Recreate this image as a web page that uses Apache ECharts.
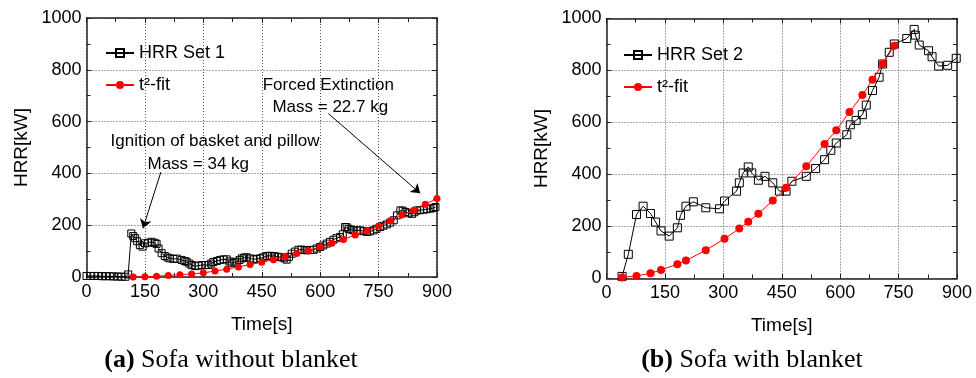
<!DOCTYPE html>
<html><head><meta charset="utf-8">
<script src="https://cdn.jsdelivr.net/npm/echarts@6/dist/echarts.min.js"></script>
<style>html,body{margin:0;padding:0;background:#fff}#c{width:976px;height:378px}</style>
</head><body><div id="c"></div>
<script>
// ---------- data ----------
const xTickLabels = [0, 150, 300, 450, 600, 750, 900];
const yTickLabels = [0, 200, 400, 600, 800, 1000];

// (a) Sofa without blanket — HRR Set 1
const timeA = [0,10,20,30,40,50,60,70,80,90,100,107,115,120,125,130,137,144,150,158,167,175,180,185,193,201,208,214,223,232,244,252,257,264,270,279,288,296,305,313,320,326,335,343,352,360,367,373,380,386,393,399,405,411,420,429,437,446,454,463,470,476,484,492,500,508,514,520,527,535,544,552,560,566,574,583,591,600,608,617,625,634,642,651,658,664,668,673,680,686,695,703,711,720,728,737,745,754,762,771,780,789,797,806,812,819,827,836,842,849,857,866,874,883,890,896];
const hrrA  = [4,4,4,4,3,3,3,2,2,1,1,10,168,158,150,138,123,117,130,132,136,132,128,110,92,81,75,72,70,71,66,62,59,52,46,42,44,46,46,46,52,58,62,66,68,68,60,53,56,59,66,72,75,76,72,68,70,72,76,81,82,81,80,78,76,72,67,78,90,98,105,106,104,103,104,105,110,116,122,129,136,144,150,154,165,193,192,186,183,180,180,180,177,174,176,180,186,193,198,203,210,219,238,257,256,251,246,244,250,257,258,260,262,264,266,270];
// (a) t^2-fit
const fitTimeA = [120,150,180,210,240,270,300,330,360,390,420,450,480,510,540,570,600,630,660,690,720,750,780,810,840,870,900];
const fitA     = [0,1,3,6,9,12,16,23,30,39,48,57,67,78,91,101,117,130,145,162,179,197,217,239,258,281,303];

// (b) Sofa with blanket — HRR Set 2
const timeB = [40,56,77,94,113,126,140,161,182,190,204,223,255,290,303,334,341,351,364,373,390,407,427,444,461,476,513,537,560,576,590,617,626,641,657,667,683,700,709,726,739,771,790,793,803,827,836,853,876,898];
const hrrB  = [8,93,246,278,250,217,183,163,195,243,278,295,272,268,298,336,368,406,429,406,378,393,368,336,336,374,393,423,457,493,521,553,591,608,630,667,723,774,825,870,902,923,958,936,898,876,853,817,820,847];
// (b) t^2-fit
const fitTimeB = [40,77,113,140,182,204,255,303,341,364,390,427,461,513,560,590,624,657,683,709,739];
const fitB     = [4,10,20,33,55,69,109,153,192,218,249,300,349,432,517,570,640,706,764,825,895];

// annotation texts
const noteIgnition = ['Ignition of basket and pillow', 'Mass = 34 kg'];
const noteExtinct  = ['Forced Extinction', 'Mass = 22.7 kg'];

// ---------- chart ----------
const SANS = '"Liberation Sans", Arial, sans-serif';
const SERIF = '"Liberation Serif", "Times New Roman", serif';
const pairs = (xs, ys) => xs.map((x, i) => [x, ys[i]]);
const AX = '#222';
const plain = v => String(v);

function xAxes(g) {
  const base = {
    type: 'value', gridIndex: g,
    min: xTickLabels[0], max: xTickLabels[xTickLabels.length - 1],
    interval: xTickLabels[1] - xTickLabels[0],
    axisLine: { show: true, onZero: false, lineStyle: { color: AX, width: 1.5 } },
    axisTick: { show: true, inside: true, length: 5, lineStyle: { color: AX } },
    minorTick: { show: true, splitNumber: 2, length: 4, lineStyle: { color: AX } },
  };
  return [
    Object.assign({}, base, {
      position: 'bottom',
      splitLine: { show: true, lineStyle: { type: [1, 2], color: '#555' } },
      axisLabel: { fontSize: 18, color: '#000', fontFamily: SANS, margin: 6, formatter: plain },
      name: 'Time[s]', nameLocation: 'middle', nameGap: 38,
      nameTextStyle: { fontSize: 19, color: '#000', fontFamily: SANS }
    }),
    Object.assign({}, base, {
      position: 'top', splitLine: { show: false }, axisLabel: { show: false }
    })
  ];
}
function yAxes(g) {
  const base = {
    type: 'value', gridIndex: g,
    min: yTickLabels[0], max: yTickLabels[yTickLabels.length - 1],
    interval: yTickLabels[1] - yTickLabels[0],
    axisLine: { show: true, onZero: false, lineStyle: { color: AX, width: 1.5 } },
    axisTick: { show: true, inside: true, length: 5, lineStyle: { color: AX } },
    minorTick: { show: true, splitNumber: 2, length: 4, lineStyle: { color: AX } },
  };
  return [
    Object.assign({}, base, {
      position: 'left',
      splitLine: { show: true, lineStyle: { type: [1, 2], color: '#555' } },
      axisLabel: { fontSize: 18, color: '#000', fontFamily: SANS, margin: 5, formatter: plain },
      name: 'HRR[kW]', nameLocation: 'middle', nameGap: 55,
      nameTextStyle: { fontSize: 19, color: '#000', fontFamily: SANS }
    }),
    Object.assign({}, base, {
      position: 'right', splitLine: { show: false }, axisLabel: { show: false }
    })
  ];
}

function hrrSeries(name, data, xi, yi, size, extra) {
  return Object.assign({
    name, type: 'line', xAxisIndex: xi, yAxisIndex: yi, data,
    symbol: 'rect', symbolSize: size,
    lineStyle: { color: '#000', width: 1 },
    itemStyle: { color: 'rgba(255,255,255,0)', borderColor: '#000', borderWidth: 1 },
    z: 3
  }, extra || {});
}
function fitSeries(data, xi, yi, size) {
  return {
    name: 't²-fit', type: 'line', xAxisIndex: xi, yAxisIndex: yi, data,
    symbol: 'circle', symbolSize: size,
    lineStyle: { color: '#ff0000', width: 1 },
    itemStyle: { color: '#ff0000' },
    z: 4
  };
}

const noteLabel = { show: true, position: 'inside', color: '#000', fontSize: 17, fontFamily: SANS, formatter: p => p.name };

const legendBase = {
  orient: 'vertical', itemWidth: 28, itemHeight: 10, itemGap: 14, padding: 0,
  textStyle: { fontSize: 18, color: '#000', fontFamily: SANS }
};

const option = {
  animation: false,
  backgroundColor: '#fff',
  grid: [
    { left: 86.5, top: 18, width: 350.5, height: 259 },
    { left: 606.5, top: 18.5, width: 350.5, height: 260 }
  ],
  xAxis: [...xAxes(0), ...xAxes(1)],
  yAxis: [...yAxes(0), ...yAxes(1)],
  legend: [
    Object.assign({ left: 105, top: 44, data: ['HRR Set 1', 't²-fit'] }, legendBase),
    Object.assign({ left: 623, top: 46, data: ['HRR Set 2', 't²-fit'] }, legendBase)
  ],
  series: [
    hrrSeries('HRR Set 1', pairs(timeA, hrrA), 0, 0, 7, {
      markPoint: {
        silent: true, symbol: 'circle', symbolSize: 1,
        itemStyle: { color: 'rgba(0,0,0,0)' }, label: noteLabel,
        data: [
          { name: noteIgnition[0], coord: [330, 522] },
          { name: noteIgnition[1], coord: [287, 436] },
          { name: noteExtinct[0], coord: [621, 740] },
          { name: noteExtinct[1], coord: [626, 654] }
        ]
      },
      markLine: {
        silent: true, symbol: ['none', 'arrow'], symbolSize: 9,
        label: { show: false },
        lineStyle: { color: '#000', width: 1, type: 'solid' },
        data: [
          [{ coord: [191, 405] }, { coord: [145, 188] }],
          [{ coord: [621, 631] }, { coord: [857, 323] }]
        ]
      }
    }),
    fitSeries(pairs(fitTimeA, fitA), 0, 0, 7),
    hrrSeries('HRR Set 2', pairs(timeB, hrrB), 2, 2, 8),
    fitSeries(pairs(fitTimeB, fitB), 2, 2, 8)
  ],
  graphic: [
    { type: 'text', x: 231, y: 360, silent: true,
      style: { text: '{b|(a)} Sofa without blanket', align: 'center', verticalAlign: 'middle',
        fontSize: 26, fontFamily: SERIF, fill: '#000',
        rich: { b: { fontWeight: 'bold', fontSize: 26, fontFamily: SERIF } } } },
    { type: 'text', x: 752, y: 360, silent: true,
      style: { text: '{b|(b)} Sofa with blanket', align: 'center', verticalAlign: 'middle',
        fontSize: 26, fontFamily: SERIF, fill: '#000',
        rich: { b: { fontWeight: 'bold', fontSize: 26, fontFamily: SERIF } } } }
  ]
};

const chart = echarts.init(document.getElementById('c'), null, { renderer: 'canvas' });
chart.setOption(option);
</script>
</body></html>
